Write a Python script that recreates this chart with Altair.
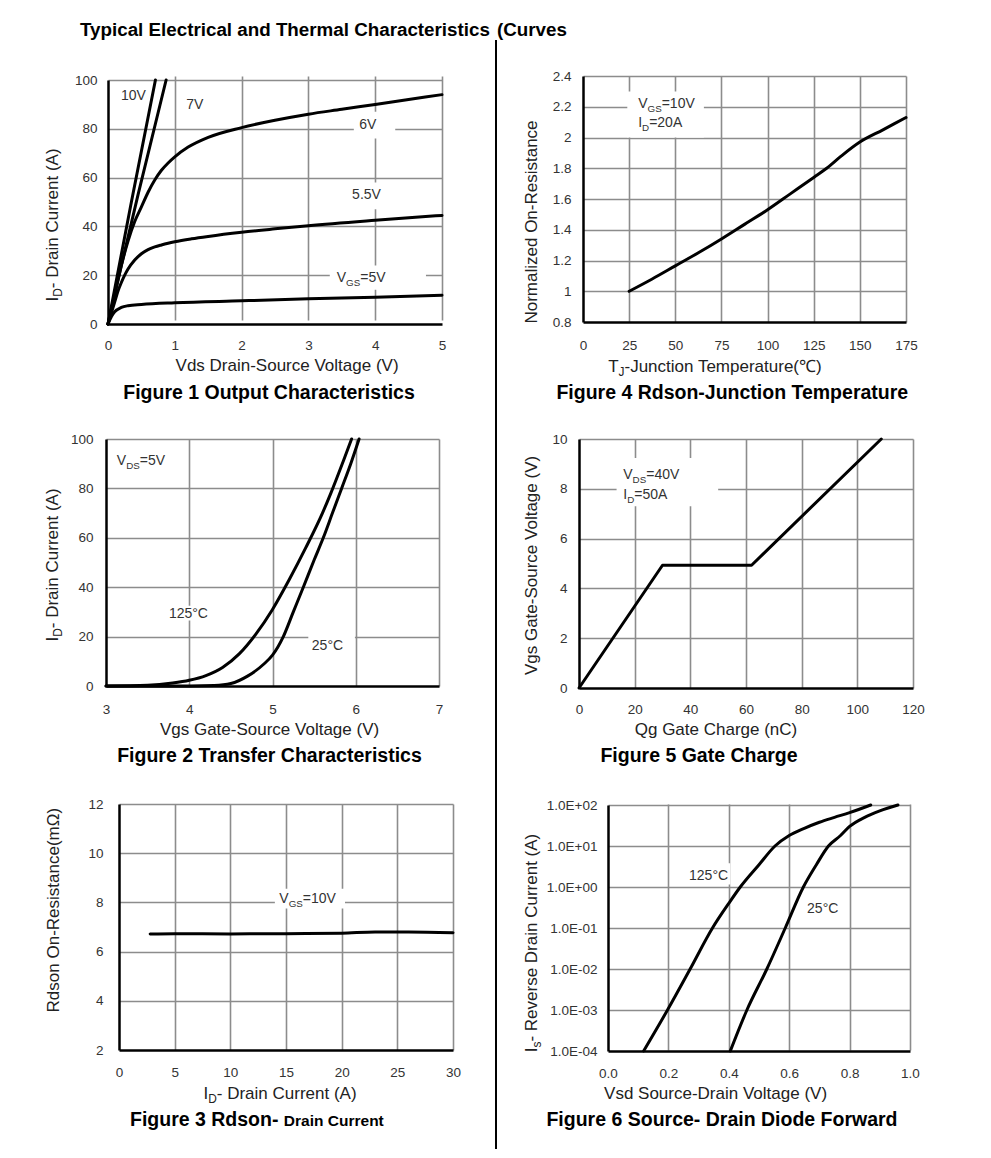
import altair as alt
import pandas as pd

FONT = "Liberation Sans"
TXT = "#333333"
GRID = "#8c8c8c"

# ================= DATA =================
# Figure 1 Output Characteristics: Vds (V) -> Id (A) for each Vgs
f1_xticks = [0, 1, 2, 3, 4, 5]
f1_yticks = [0, 20, 40, 60, 80, 100]
f1_vgs10_vds = [0, 0.35, 0.71]
f1_vgs10_id = [0, 50, 100]
f1_vgs7_vds = [0, 0.2, 0.45, 0.87]
f1_vgs7_id = [0, 24, 53, 100]
f1_vgs6_vds = [0, 0.1, 0.2, 0.3, 0.4, 0.5, 0.6, 0.7, 0.8, 0.9, 1.0, 1.2, 1.5, 2.0, 2.5, 3.0, 3.5, 4.0, 4.5, 5.0]
f1_vgs6_id = [0, 12, 24, 34, 42, 48, 54, 59, 63, 66, 68.5, 72.5, 76.5, 80.5, 83.5, 86, 88, 90, 92, 94]
f1_vgs55_vds = [0, 0.05, 0.1, 0.15, 0.2, 0.25, 0.3, 0.4, 0.5, 0.6, 0.7, 0.8, 0.9, 1.0, 1.25, 1.5, 2.0, 2.5, 3.0, 4.0, 5.0]
f1_vgs55_id = [0, 4.5, 9, 13.5, 17, 20, 22.5, 26.2, 28.8, 30.5, 31.6, 32.4, 33.1, 33.7, 34.9, 35.9, 37.6, 39, 40.3, 42.5, 44.5]
f1_vgs5_vds = [0, 0.05, 0.1, 0.2, 0.3, 0.5, 1.0, 2.0, 3.0, 4.0, 5.0]
f1_vgs5_id = [0, 3, 5, 6.8, 7.5, 8, 8.7, 9.5, 10.3, 11, 11.8]

# Figure 4 Rdson vs junction temperature
f4_xticks = [0, 25, 50, 75, 100, 125, 150, 175]
f4_yticks = [0.8, 1, 1.2, 1.4, 1.6, 1.8, 2, 2.2, 2.4]
f4_tj = [25, 37.5, 50, 62.5, 75, 87.5, 100, 112.5, 125, 132, 140, 150, 162.5, 175]
f4_rn = [1.0, 1.08, 1.165, 1.25, 1.34, 1.435, 1.53, 1.635, 1.74, 1.80, 1.88, 1.97, 2.05, 2.13]

# Figure 2 Transfer characteristics
f2_xticks = [3, 4, 5, 6, 7]
f2_yticks = [0, 20, 40, 60, 80, 100]
f2_t125_vgs = [3, 3.5, 3.8, 4.0, 4.2, 4.4, 4.6, 4.8, 5.0, 5.2, 5.4, 5.6, 5.7, 5.85, 5.95]
f2_t125_id = [0, 0.3, 1.2, 2.3, 4.2, 7.5, 13, 21, 31, 43, 56, 70, 78, 91, 100]
f2_t25_vgs = [3, 4.0, 4.3, 4.5, 4.7, 4.9, 5.0, 5.13, 5.25, 5.37, 5.5, 5.61, 5.72, 5.83, 5.94, 6.04]
f2_t25_id = [0, 0, 0.2, 1, 4, 9, 12.5, 20, 30, 40, 51, 60, 70, 80, 90, 100]

# Figure 5 Gate charge
f5_xticks = [0, 20, 40, 60, 80, 100, 120]
f5_yticks = [0, 2, 4, 6, 8, 10]
f5_qg = [0, 30, 62, 108.6]
f5_vgs = [0, 4.93, 4.93, 10]

# Figure 3 Rdson vs drain current
f3_xticks = [0, 5, 10, 15, 20, 25, 30]
f3_yticks = [2, 4, 6, 8, 10, 12]
f3_id = [2.8, 5, 10, 15, 20, 23, 26, 30]
f3_rds = [6.72, 6.73, 6.72, 6.73, 6.75, 6.8, 6.8, 6.77]

# Figure 6 Source-drain diode forward
f6_xticks = [0.0, 0.2, 0.4, 0.6, 0.8, 1.0]
f6_yticks = [1e-4, 1e-3, 1e-2, 1e-1, 1, 10, 100]
f6_t125_vsd = [0.118, 0.197, 0.272, 0.346, 0.40, 0.438, 0.5, 0.553, 0.6, 0.65, 0.7, 0.75, 0.8, 0.87]
f6_t125_is = [1e-4, 1e-3, 1e-2, 1e-1, 0.4, 1, 3.5, 10, 18, 27, 38, 50, 65, 100]
f6_t25_vsd = [0.405, 0.46, 0.526, 0.587, 0.647, 0.69, 0.73, 0.77, 0.8, 0.85, 0.9, 0.96]
f6_t25_is = [1e-4, 1e-3, 1e-2, 0.1, 1, 3.5, 10, 18, 30, 50, 72, 100]

# ================= TEXT METRICS =================
AR = {' ': 278, '!': 278, '(': 333, ')': 333, '+': 584, '-': 333, '.': 278, '=': 584, '°': 400,
      'A': 667, 'B': 667, 'C': 722, 'D': 722, 'E': 667, 'F': 611, 'G': 778, 'H': 722, 'I': 278,
      'J': 500, 'K': 667, 'L': 556, 'M': 833, 'N': 722, 'O': 778, 'P': 667, 'Q': 778, 'R': 722,
      'S': 667, 'T': 611, 'U': 722, 'V': 667, 'W': 944, 'X': 667, 'Y': 667, 'Z': 611,
      'a': 556, 'b': 556, 'c': 500, 'd': 556, 'e': 556, 'f': 278, 'g': 556, 'h': 556, 'i': 222,
      'j': 222, 'k': 500, 'l': 222, 'm': 833, 'n': 556, 'o': 556, 'p': 556, 'q': 556, 'r': 333,
      's': 500, 't': 278, 'u': 556, 'v': 500, 'w': 722, 'x': 500, 'y': 500, 'z': 500,
      'Ω': 768, '℃': 1000}
AB = {' ': 278, '(': 333, ')': 333, '-': 333, '.': 278,
      'A': 722, 'C': 722, 'D': 722, 'E': 667, 'F': 611, 'G': 778, 'H': 722, 'I': 278, 'J': 556,
      'O': 778, 'R': 722, 'S': 667, 'T': 611,
      'a': 556, 'b': 611, 'c': 556, 'd': 611, 'e': 556, 'f': 333, 'g': 611, 'h': 611, 'i': 278,
      'l': 278, 'm': 889, 'n': 611, 'o': 611, 'p': 611, 'r': 389, 's': 556, 't': 333, 'u': 611,
      'v': 556, 'w': 778, 'y': 556}
SUB = 0.7


def tw(s, size, bold):
    t = AB if bold else AR
    return sum(t.get(c, 556) for c in s) * size / 1000.0


def make_axis(values, fmt, pad, expr, mn):
    thr = 1e-9 if mn == 0 else mn * 1.000001
    kw = dict(values=values, title=None, grid=True, ticks=False, tickSize=0, domain=True,
              domainColor="black", domainWidth=2.5, gridColor=GRID, gridWidth=1.6,
              gridOpacity={"condition": {"test": f"datum.value <= {thr}", "value": 0}, "value": 1},
              labelFont=FONT, labelFontSize=13.5, labelColor=TXT, labelPadding=pad,
              labelOverlap=False, labelFlush=False)
    if fmt:
        kw["format"] = fmt
    if expr:
        kw["labelExpr"] = expr
    return alt.Axis(**kw)


class Panel:
    """Plot area at page coords (px, ptop)-(px+w, pbot); group top at gtop;
    frame = (left, top, right, bottom) in page coordinates (defines the cell's bounds)."""

    def __init__(self, px, ptop, pbot, w, gtop, frame, xdom, ydom, xticks, yticks,
                 xfmt=None, yfmt=None, ylog=False, yexpr=None, xpad=14, ypad=10):
        self.ox, self.oy, self.w = px, gtop, w
        self.h = pbot - gtop
        off = ptop - gtop
        ys = dict(domain=ydom, nice=False, zero=False)
        if ylog:
            ys["type"] = "log"
        if off > 0:
            ys["range"] = [self.h, off]
        self.xs = alt.Scale(domain=xdom, nice=False, zero=False)
        self.ys = alt.Scale(**ys)
        self.xa = make_axis(xticks, xfmt, xpad, None, xdom[0])
        self.ya = make_axis(yticks, yfmt, ypad, yexpr, ydom[0])
        self.layers = []
        fl, ft, fr, fb = frame
        self.frame = frame
        one = pd.DataFrame({"k": [0]})
        self.layers.append(alt.Chart(one).mark_rect(opacity=0).encode(
            x=alt.value(fl - px), x2=alt.value(fr - px),
            y=alt.value(ft - gtop), y2=alt.value(fb - gtop)))

    def X(self):
        return alt.X("x", type="quantitative", scale=self.xs, axis=self.xa, title=None)

    def Y(self):
        return alt.Y("y", type="quantitative", scale=self.ys, axis=self.ya, title=None)

    def lines(self, series, interp="monotone", width=3):
        rows = []
        for name, xs, ys in series:
            for i, (a, b) in enumerate(zip(xs, ys)):
                rows.append({"x": a, "y": b, "s": name, "o": i})
        df = pd.DataFrame(rows)
        self.layers.append(alt.Chart(df).mark_line(
            color="black", strokeWidth=width, interpolate=interp, strokeJoin="round", strokeCap="round"
        ).encode(x=self.X(), y=self.Y(), detail="s:N", order="o:Q"))

    def box(self, x1, x2, y1, y2):
        df = pd.DataFrame({"x": [x1], "x2": [x2], "y": [y1], "y2": [y2]})
        self.layers.append(alt.Chart(df).mark_rect(color="white").encode(
            x=self.X(), x2=alt.X2("x2"), y=self.Y(), y2=alt.Y2("y2")))

    def divider(self, x, top=None, width=2):
        # vertical separator through the whole cell, drawn as a filled bar (no stroke => exact bounds)
        fl, ft, fr, fb = self.frame
        y1 = ft if top is None else top
        one = pd.DataFrame({"k": [0]})
        self.layers.append(alt.Chart(one).mark_rect(color="black", strokeWidth=0).encode(
            x=alt.value(x - width / 2 - self.ox), x2=alt.value(x + width / 2 - self.ox),
            y=alt.value(y1 - self.oy), y2=alt.value(fb - self.oy)))

    def rich(self, parts, x, y, data=False, anchor="center", angle=0, color=TXT):
        main = max(p[1] for p in parts)
        widths = [tw(t, s * (SUB if sub else 1), b) for (t, s, b, sub) in parts]
        total = sum(widths)
        acc = -total / 2 if anchor == "center" else 0
        base = 0.36 * main
        df = pd.DataFrame({"x": [x], "y": [y]})
        for (t, s, b, sub), wdt in zip(parts, widths):
            fs = s * SUB if sub else s
            mk = alt.Chart(df).mark_text(
                text=t, font=FONT, fontSize=fs, fontWeight="bold" if b else "normal",
                color=color, align="left", baseline="alphabetic",
                dx=acc, dy=base + (0.25 * s if sub else 0), angle=angle)
            if data:
                enc = dict(x=self.X(), y=self.Y())
            else:
                enc = dict(x=alt.value(x - self.ox), y=alt.value(y - self.oy))
            self.layers.append(mk.encode(**enc))
            acc += wdt

    def chart(self):
        return alt.layer(*self.layers).properties(width=self.w, height=self.h)


def N(t, s=14):
    return (t, s, False, False)


def S(t, s=14):
    return (t, s, False, True)


def B(t, s=19.5):
    return (t, s, True, False)


AT = 17          # axis title size
TC = "#222222"   # axis title colour
TS = 18.8        # main title size
LX, MX, RX = 9, 493, 982           # column frame edges (page x)
R1, R2, R3, R4 = 8, 405, 770, 1149  # row frame edges (page y)
DIV = 496                           # divider x

# ---------- Panel 1 ----------
p1 = Panel(108, 80, 324, 334, 76, (LX, R1, MX, R2), [0, 5], [0, 100], f1_xticks, f1_yticks, xpad=14, ypad=11)
p1.box(3.32, 4.76, 14, 24)
p1.box(3.6, 4.15, 47, 58)
p1.box(3.68, 4.3, 76, 87)
p1.lines([("10V", f1_vgs10_vds, f1_vgs10_id), ("7V", f1_vgs7_vds, f1_vgs7_id),
          ("6V", f1_vgs6_vds, f1_vgs6_id), ("5.5V", f1_vgs55_vds, f1_vgs55_id),
          ("5V", f1_vgs5_vds, f1_vgs5_id)])
p1.rich([N("10V")], 0.38, 94, data=True)
p1.rich([N("7V")], 1.30, 90, data=True)
p1.rich([N("6V")], 3.89, 82, data=True)
p1.rich([N("5.5V")], 3.87, 53.3, data=True)
p1.rich([N("V"), S("GS"), N("=5V")], 3.79, 19.2, data=True)
p1.rich([B("Typical Electrical and Thermal Characteristics", TS)], 80, 29.7, anchor="left", color="black")
p1.rich([N("I", AT), S("D", AT), N("- Drain Current (A)", AT)], 52, 225, angle=270, color=TC)
p1.rich([N("Vds Drain-Source Voltage (V)", AT)], 287.5, 365, color=TC)
p1.rich([B("Figure 1 Output Characteristics")], 269, 392, color="black")

# ---------- Panel 4 ----------
p4 = Panel(583, 76, 322, 323, 76, (MX, R1, RX, R2), [0, 175], [0.8, 2.4], f4_xticks, f4_yticks,
           yfmt="~g", xpad=16, ypad=12)
p4.divider(DIV, top=40)
p4.box(24, 65.5, 2.0, 2.3)
p4.lines([("Rn", f4_tj, f4_rn)])
p4.rich([N("V"), S("GS"), N("=10V")], 29.9, 2.224, data=True, anchor="left")
p4.rich([N("I"), S("D"), N("=20A")], 29.9, 2.10, data=True, anchor="left")
p4.rich([B("(Curves", TS)], 80 + tw("Typical Electrical and Thermal Characteristics ", TS, True), 29.7,
        anchor="left", color="black")
p4.rich([N("Normalized On-Resistance", AT)], 531, 222, angle=270, color=TC)
p4.rich([N("T", AT), S("J", AT), N("-Junction Temperature(℃)", AT)], 716, 366, color=TC)
p4.rich([B("Figure 4 Rdson-Junction Temperature")], 733, 392, color="black")

# ---------- Panel 2 ----------
p2 = Panel(106, 439, 686, 333, 439, (LX, R2, MX, R3), [3, 7], [0, 100], f2_xticks, f2_yticks, xpad=16, ypad=13)
p2.box(3.74, 4.24, 26.5, 32.5)
p2.box(5.43, 5.99, 10, 21)
p2.lines([("125", f2_t125_vgs, f2_t125_id), ("25", f2_t25_vgs, f2_t25_id)])
p2.rich([N("V"), S("DS"), N("=5V")], 3.13, 91.5, data=True, anchor="left")
p2.rich([N("125°C")], 3.99, 29.4, data=True)
p2.rich([N("25°C")], 5.66, 16.6, data=True)
p2.rich([N("I", AT), S("D", AT), N("- Drain Current (A)", AT)], 52, 565, angle=270, color=TC)
p2.rich([N("Vgs Gate-Source Voltage (V)", AT)], 270, 729, color=TC)
p2.rich([B("Figure 2 Transfer Characteristics")], 270, 755, color="black")

# ---------- Panel 5 ----------
p5 = Panel(579, 439, 688, 334, 439, (MX, R2, RX, R3), [0, 120], [0, 10], f5_xticks, f5_yticks, xpad=14, ypad=12)
p5.divider(DIV)
p5.box(13.5, 50, 7.3, 9.24)
p5.lines([("Qg", f5_qg, f5_vgs)], interp="linear")
p5.rich([N("V"), S("DS"), N("=40V")], 15.9, 8.59, data=True, anchor="left")
p5.rich([N("I"), S("D"), N("=50A")], 15.9, 7.79, data=True, anchor="left")
p5.rich([N("Vgs Gate-Source Voltage (V)", AT)], 531, 565, angle=270, color=TC)
p5.rich([N("Qg Gate Charge (nC)", AT)], 716, 729, color=TC)
p5.rich([B("Figure 5 Gate Charge")], 699, 755, color="black")

# ---------- Panel 3 ----------
p3 = Panel(119, 804, 1050, 334, 804, (LX, R3, MX, R4), [0, 30], [2, 12], f3_xticks, f3_yticks, xpad=15, ypad=16)
p3.box(14, 20.3, 7.75, 8.55)
p3.lines([("R", f3_id, f3_rds)])
p3.rich([N("V"), S("GS"), N("=10V")], 14.4, 8.17, data=True, anchor="left")
p3.rich([N("Rdson On-Resistance(mΩ)", AT)], 53, 910, angle=270, color=TC)
p3.rich([N("I", AT), S("D", AT), N("- Drain Current (A)", AT)], 280, 1093, color=TC)
p3.rich([B("Figure 3 Rdson- "), B("Drain Current", 15.5)], 130, 1119, anchor="left", color="black")

# ---------- Panel 6 ----------
p6 = Panel(608, 805, 1051, 302, 804, (MX, R3, RX, R4), [0, 1], [1e-4, 100], f6_xticks, f6_yticks,
           xfmt=".1f", ylog=True,
           yexpr="'1.0E' + (round(log(datum.value)/LN10) < 0 ? '-' : '+') + '0' + abs(round(log(datum.value)/LN10))",
           xpad=15, ypad=11)
p6.divider(DIV)
p6.box(0.26, 0.405, 1.15, 3.8)
p6.lines([("125", f6_t125_vsd, f6_t125_is), ("25", f6_t25_vsd, f6_t25_is)])
p6.rich([N("125°C")], 0.333, 1.96, data=True)
p6.rich([N("25°C")], 0.711, 0.30, data=True)
p6.rich([N("I", AT), S("s", AT), N("- Reverse Drain Current (A)", AT)], 531, 943, angle=270, color=TC)
p6.rich([N("Vsd Source-Drain Voltage (V)", AT)], 716, 1093, color=TC)
p6.rich([B("Figure 6 Source- Drain Diode Forward")], 722, 1119, color="black")

# spacer cell: anchors the left edge so each panel keeps its own plot origin
spacer = alt.Chart(pd.DataFrame({"k": [0]})).mark_rect(opacity=0).encode(
    x=alt.value(0), x2=alt.value(1), y=alt.value(0), y2=alt.value(1)).properties(width=1, height=1)

chart = alt.vconcat(
    alt.hconcat(spacer, p1.chart(), p4.chart(), spacing=0),
    alt.hconcat(spacer, p2.chart(), p5.chart(), spacing=0),
    alt.hconcat(spacer, p3.chart(), p6.chart(), spacing=0),
    spacing=0
).properties(padding=0).configure_view(stroke=None)

chart.save("out.html", embed_options={"renderer": "svg", "actions": False})
